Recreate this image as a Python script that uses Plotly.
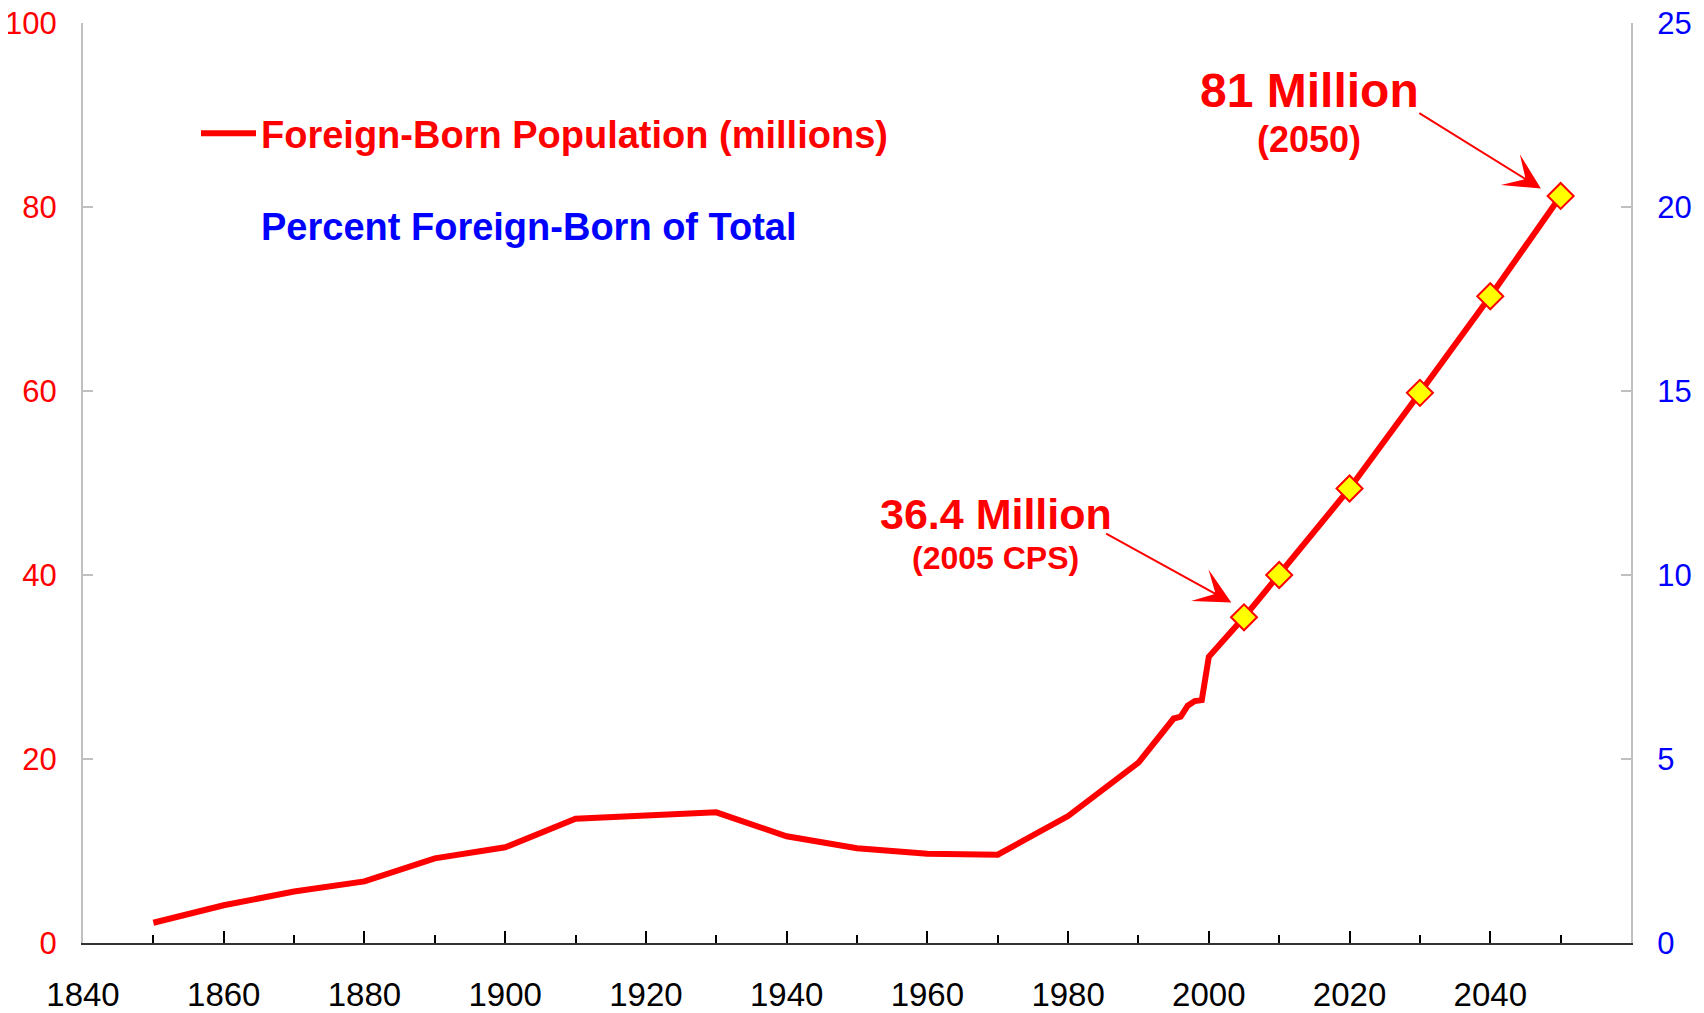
import plotly.graph_objects as go

# ---- data ----
years = [1850, 1860, 1870, 1880, 1890, 1900, 1910, 1920, 1930, 1940, 1950, 1960,
         1970, 1980, 1990, 1995, 1996, 1997, 1998, 1999, 2000, 2005, 2010, 2020,
         2030, 2040, 2050]
foreign_born = [2.2, 4.1, 5.6, 6.7, 9.2, 10.4, 13.5, 13.9, 14.2, 11.6, 10.3, 9.7,
                9.6, 13.8, 19.6, 24.4, 24.6, 25.8, 26.3, 26.4, 31.1, 35.4, 40.0, 49.4,
                59.8, 70.3, 81.2]

proj_years = [2005, 2010, 2020, 2030, 2040, 2050]
proj_values = [35.4, 40.0, 49.4, 59.8, 70.3, 81.2]

x_major = [1840, 1860, 1880, 1900, 1920, 1940, 1960, 1980, 2000, 2020, 2040]
x_minor = [1850, 1870, 1890, 1910, 1930, 1950, 1970, 1990, 2010, 2030, 2050]
x_labels = [str(v) for v in x_major]

left_ticks = [0, 20, 40, 60, 80, 100]
right_ticks = [0, 5, 10, 15, 20, 25]

series1_name = "Foreign-Born Population (millions)"
series2_name = "Percent Foreign-Born of Total"

# annotation texts
callouts = ["36.4 Million", "81 Million"]
callout_sizes = [43, 48]
callout_subs = ["(2005 CPS)", "(2050)"]
callout_sub_sizes = [32, 36]
callout_pos = [(1969.7, 46.6), (2014.3, 92.7)]
callout_sub_pos = [(1969.7, 41.9), (2014.3, 87.3)]
arrow_heads = [(2003.2, 37.0), (2047.2, 82.0)]
arrow_tails = [(1985.2, 44.6), (2029.7, 90.3)]

FONT = "Liberation Sans, Arial, sans-serif"
RED = "#FF0000"
BLUE = "#0000FF"
GRAY = "#C0C0C0"

fig = go.Figure()
fig.add_trace(go.Scatter(
    x=years, y=foreign_born, mode="lines",
    line=dict(color=RED, width=6),
    name=f"<b>{series1_name}</b>", legendgroup="a",
    hoverinfo="x+y"))
fig.add_trace(go.Scatter(
    x=proj_years, y=proj_values, mode="markers",
    marker=dict(symbol="diamond", size=20, color="#FFFF00",
                line=dict(color=RED, width=2)),
    showlegend=False))
fig.add_trace(go.Scatter(
    x=[None], y=[None], yaxis="y2", mode="lines",
    line=dict(color="rgba(0,0,0,0)", width=0),
    name=f"<b><span style='color:{BLUE}'>{series2_name}</span></b>",
    legendgroup="b"))

annotations = []
for (hx, hy), (tx, ty) in zip(arrow_heads, arrow_tails):
    annotations.append(dict(
        x=hx, y=hy, xref="x", yref="y", ax=tx, ay=ty, axref="x", ayref="y",
        text="", showarrow=True, arrowhead=3, arrowsize=3, arrowwidth=2,
        arrowcolor=RED))
for txt, (px, py), fs in zip(callouts, callout_pos, callout_sizes):
    annotations.append(dict(
        x=px, y=py, xref="x", yref="y", text=f"<b>{txt}</b>", showarrow=False,
        font=dict(family=FONT, size=fs, color=RED)))
for txt, (px, py), fs in zip(callout_subs, callout_sub_pos, callout_sub_sizes):
    annotations.append(dict(
        x=px, y=py, xref="x", yref="y", text=f"<b>{txt}</b>", showarrow=False,
        font=dict(family=FONT, size=fs, color=RED)))

fig.update_layout(
    width=1696, height=1005,
    margin=dict(l=75, r=73, t=15, b=70, autoexpand=False),
    paper_bgcolor="white", plot_bgcolor="white",
    font=dict(family=FONT),
    showlegend=True,
    legend=dict(
        x=0.073, y=0.914, xanchor="left", yanchor="top",
        font=dict(family=FONT, size=38, color=RED),
        itemwidth=55, tracegroupgap=39, bgcolor="rgba(0,0,0,0)",
        traceorder="grouped"),
    xaxis=dict(
        range=[1840, 2060], tickmode="array", tickvals=x_major, ticktext=x_labels,
        ticks="inside", ticklen=12, tickwidth=2, tickcolor="black",
        showline=True, linecolor="#333333", linewidth=2,
        showgrid=False, zeroline=False, automargin=False,
        tickfont=dict(family=FONT, size=33, color="black"),
        ticklabelstandoff=21, ticklabeloverflow="allow",
        minor=dict(tickmode="array", tickvals=x_minor, ticks="inside",
                   ticklen=8, tickwidth=2, tickcolor="black", showgrid=False)),
    yaxis=dict(
        range=[0, 100], tickmode="array", tickvals=left_ticks,
        ticks="inside", ticklen=10, tickwidth=2, tickcolor=GRAY,
        showline=True, linecolor=GRAY, linewidth=2,
        showgrid=False, zeroline=False, automargin=False,
        tickfont=dict(family=FONT, size=31, color=RED),
        ticklabelstandoff=18, ticklabeloverflow="allow"),
    yaxis2=dict(
        range=[0, 25], tickmode="array", tickvals=right_ticks,
        overlaying="y", side="right",
        ticks="inside", ticklen=10, tickwidth=2, tickcolor=GRAY,
        showline=True, linecolor=GRAY, linewidth=2,
        showgrid=False, zeroline=False, automargin=False,
        tickfont=dict(family=FONT, size=31, color=BLUE),
        ticklabelstandoff=18, ticklabeloverflow="allow"),
    annotations=annotations,
)

fig.write_html("out.html")
